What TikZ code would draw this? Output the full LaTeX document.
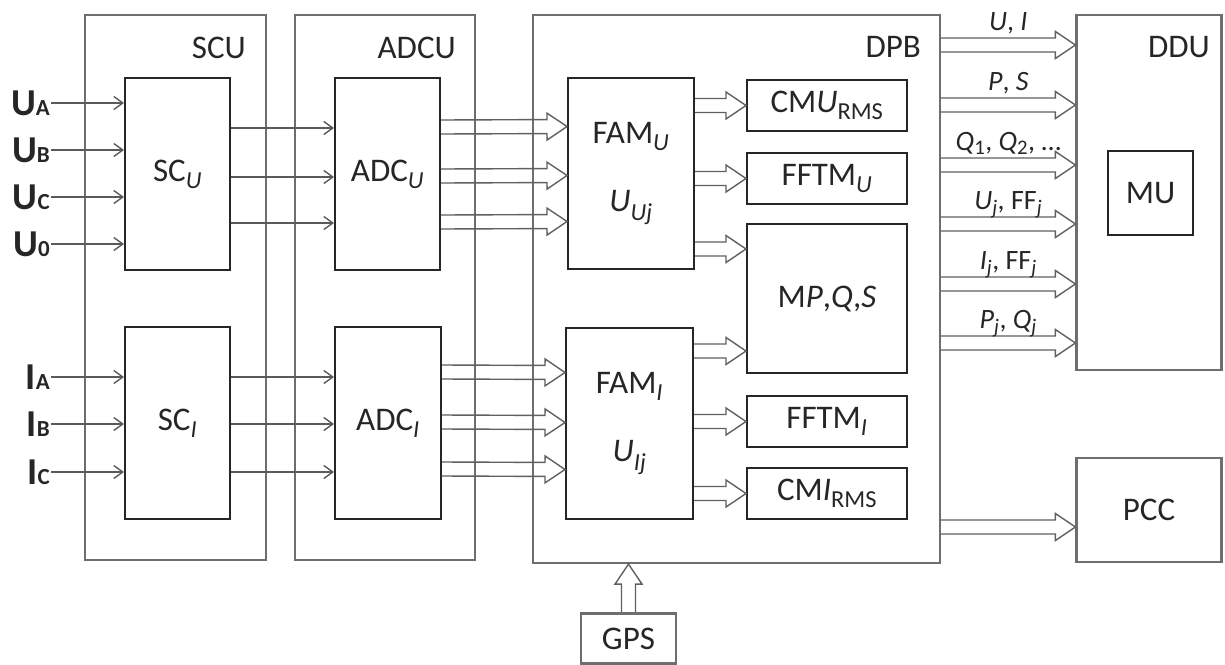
\documentclass[tikz,border=0pt]{standalone}
\usepackage{fontspec}
\setmainfont{Carlito}
\usetikzlibrary{positioning,arrows.meta,calc}
\definecolor{ink}{HTML}{262626}
\definecolor{frame}{HTML}{6E6E6E}
\definecolor{wire}{HTML}{5A5A5A}
\definecolor{busc}{HTML}{606060}
\renewcommand{\defaultscriptratio}{.74}
\newcommand{\inp}[2]{\textbf{#1{\fontsize{23}{23}\selectfont #2}}}
\tikzset{
  unit/.style={draw=frame, line width=2.2pt, inner sep=0pt},
  blk/.style={draw=ink, line width=2pt, align=center, text=ink, font=\fontsize{33}{38}\selectfont},
  ttl/.style={text=ink, inner sep=0pt, font=\fontsize{33}{38}\selectfont},
  inlab/.style={text=ink, inner sep=1pt, font=\fontsize{38}{42}\selectfont},
  olab/.style={text=ink, inner sep=0pt, font=\fontsize{28}{32}\selectfont},
  sig/.style={draw=wire, line width=1.4pt, -{Straight Barb[length=9pt, width=13pt]}},
  bus/.style={draw=busc, line width=1.4pt, to path={
    ($(\tikztotarget)!20pt!(\tikztostart)$) coordinate (hb)
    ($(\tikztostart)!7pt!-90:(\tikztotarget)$) -- ($(hb)!7pt!90:(\tikztostart)$)
    -- ($(hb)!13.5pt!90:(\tikztostart)$) -- (\tikztotarget) -- ($(hb)!13.5pt!-90:(\tikztostart)$)
    -- ($(hb)!7pt!-90:(\tikztostart)$) -- ($(\tikztostart)!7pt!90:(\tikztotarget)$)}},
}
\begin{document}
\begin{tikzpicture}[x=1pt, y=-1pt]
    \useasboundingbox (0,0) rectangle (1225,664);
    % outer units
    \node[unit, minimum width=181, minimum height=545] (scu)  at (175.5, 287.5) {};
    \node[unit, minimum width=180, minimum height=545] (adcu) at (385, 287.5)   {};
    \node[unit, minimum width=407, minimum height=548] (dpb)  at (736.5, 289)   {};
    \node[unit, minimum width=145, minimum height=355] (ddu)  at (1149, 192.5)  {};
    \node[unit, minimum width=145, minimum height=104] (pcc)  at (1149, 510)    {};
    \node[unit, minimum width=95,  minimum height=50]  (gps)  at (628.5, 638.5) {};
    \node[ttl, anchor=base east] (scut)  at (246, 58)  {SCU};
    \node[ttl, anchor=base east] (adcut) at (456, 58)  {ADCU};
    \node[ttl, anchor=base east] (dpbt)  at (921, 57)  {DPB};
    \node[ttl, anchor=base east] (ddut)  at (1210, 57) {DDU};
    \node[ttl] (pcct) at (pcc) {PCC};
    \node[ttl] (gpst) at (gps) {GPS};
    % conditioning and conversion
    \node[blk, minimum width=105, minimum height=192] (scU)  at (177.5, 174) {SC\textsubscript{\textit{U}}};
    \node[blk, minimum width=105, minimum height=192] (scI)  at (177.5, 423) {SC\textsubscript{\textit{I}}};
    \node[blk, minimum width=105, minimum height=192] (adcU) at (387.5, 174) {ADC\textsubscript{\textit{U}}};
    \node[blk, minimum width=106, minimum height=192] (adcI) at (388, 423)   {ADC\textsubscript{\textit{I}}};
    % processing block
    \node[blk, minimum width=126, minimum height=191] (famU) at (631, 173.5)   {FAM\textsubscript{\textit{U}}\\[30pt]\textit{U}\textsubscript{\textit{Uj}}};
    \node[blk, minimum width=127, minimum height=191] (famI) at (629.5, 423.5) {FAM\textsubscript{\textit{I}}\\[30pt]\textit{U}\textsubscript{\textit{Ij}}};
    \node[blk, minimum width=160, minimum height=51]  (cmU)  at (827, 105.5) {CM\textit{U}\textsubscript{RMS}};
    \node[blk, minimum width=160, minimum height=51]  (fftU) at (827, 178.5) {FFTM\textsubscript{\textit{U}}};
    \node[blk, minimum width=160, minimum height=149] (mpqs) at (827, 298.5) {M\textit{P},\textit{Q},\textit{S}};
    \node[blk, minimum width=160, minimum height=51]  (fftI) at (827, 421.5) {FFTM\textsubscript{\textit{I}}};
    \node[blk, minimum width=160, minimum height=51]  (cmI)  at (827, 493.5) {CM\textit{I}\textsubscript{RMS}};
    \node[blk, minimum width=85,  minimum height=84]  (mu)   at (1150.5, 193) {MU};
    % inputs
    \foreach \yy/\nm/\a/\b in {103/ua/U/A, 150/ub/U/B, 197/uc/U/C, 244/u0/U/0}{
      \node[inlab, anchor=east] (\nm) at (51, \yy) {\inp{\a}{\b}};
      \draw[sig] (\nm.east) -- (scU.west |- \nm.east);
    }
    \foreach \yy/\nm/\a/\b in {377/ia/I/A, 424/ib/I/B, 472/ic/I/C}{
      \node[inlab, anchor=east] (\nm) at (51, \yy) {\inp{\a}{\b}};
      \draw[sig] (\nm.east) -- (scI.west |- \nm.east);
    }
    \foreach \dy in {46,-3,-49}
      \draw[sig] ([yshift=\dy]scU.east) -- ([yshift=\dy]adcU.west);
    \foreach \dy in {46,-1,-49}
      \draw[sig] ([yshift=\dy]scI.east) -- ([yshift=\dy]adcI.west);
    % buses
    \foreach \dy in {47,-2,-48}
      \draw[bus] ([yshift=\dy]adcU.east) to ([yshift=\dy]famU.west);
    \foreach \dy in {51,1,-46}
      \draw[bus] ([yshift=\dy]adcI.east) to ([yshift=\dy]famI.west);
    \coordinate (mpinU) at ([yshift=49.5]mpqs.west);
    \coordinate (mpinI) at ([yshift=-52.5]mpqs.west);
    \draw[bus] (famU.east |- cmU.west) to (cmU.west);
    \draw[bus] (famU.east |- fftU.west) to (fftU.west);
    \draw[bus] (famU.east |- mpinU) to (mpinU);
    \draw[bus] (famI.east |- mpinI) to (mpinI);
    \draw[bus] (famI.east |- fftI.west) to (fftI.west);
    \draw[bus] (famI.east |- cmI.west) to (cmI.west);
    % outputs
    \foreach \yy/\lbl [count=\k] in {45/{\textit{U}, \textit{I}}, 105/{\textit{P}, \textit{S}}, 165/{\textit{Q}\textsubscript{1}, \textit{Q}\textsubscript{2}, \dots}, 224/{\textit{U}\textsubscript{\textit{j}}, FF\textsubscript{\textit{j}}}, 284/{\textit{I}\textsubscript{\textit{j}}, FF\textsubscript{\textit{j}}}, 343/{\textit{P}\textsubscript{\textit{j}}, \textit{Q}\textsubscript{\textit{j}}}}{
      \coordinate (out\k) at (ddu.west |- 0, \yy);
      \draw[bus] (dpb.east |- out\k) to (out\k);
      \node[olab, anchor=base] (ol\k) at ([yshift=15]$(dpb.east |- out\k)!0.5!(out\k)$) {\lbl};
    }
    \coordinate (pccin) at ([yshift=-17]pcc.west);
    \draw[bus] (dpb.east |- pccin) to (pccin);
    \coordinate (gpsin) at (gps.north |- dpb.south);
    \draw[bus] (gps.north) to (gpsin);
\end{tikzpicture}
\end{document}
